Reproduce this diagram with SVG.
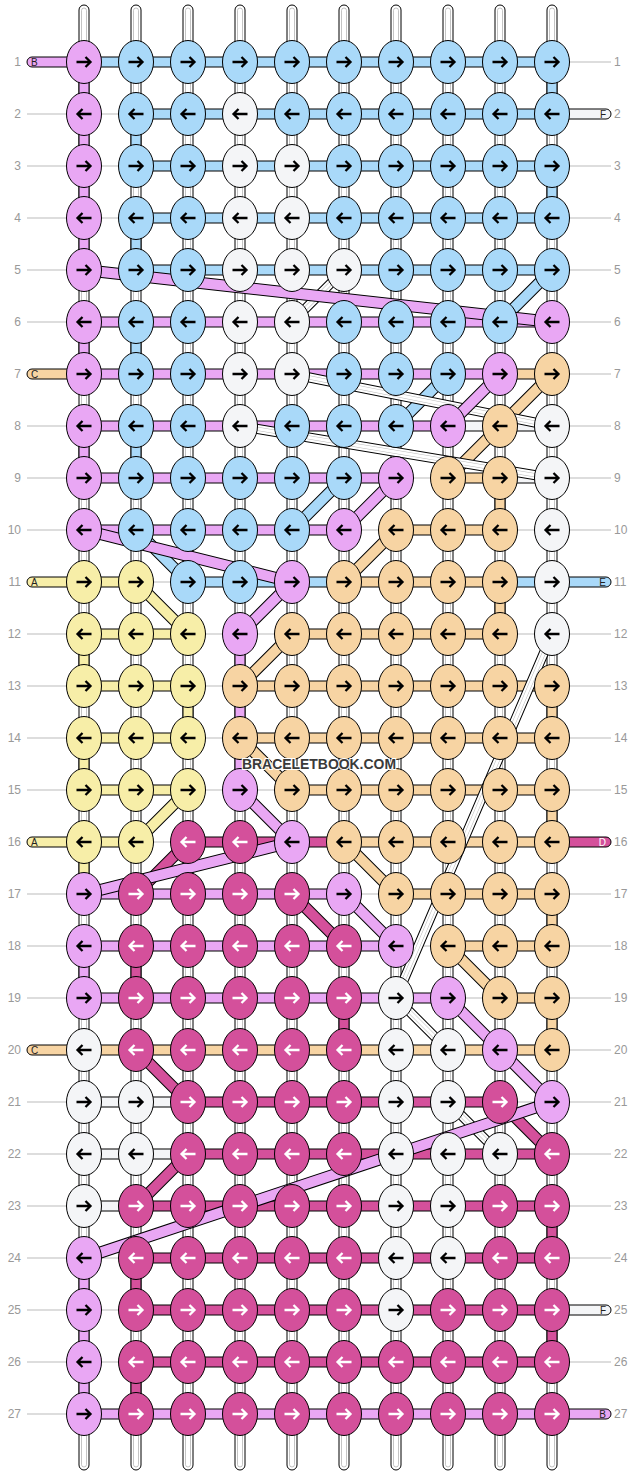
<svg xmlns="http://www.w3.org/2000/svg" xmlns:xlink="http://www.w3.org/1999/xlink" width="636" height="1476" viewBox="0 0 636 1476">
<style>
.P{fill:#e9a7f4}.L{fill:#a9d9f9}.W{fill:#f4f5f7}.O{fill:#f7d4a3}.Y{fill:#f7eea8}.M{fill:#d4509b}
.b rect{stroke:#000;stroke-width:1}
.g line{stroke:#bbb;stroke-width:1}
.n{font-family:"Liberation Sans",Arial,sans-serif;font-size:12px;fill:#999}
.t{font-family:"Liberation Sans",Arial,sans-serif;font-size:10px;fill:#222}
.dk{stroke:#000;stroke-width:12;fill:none}
.dwk{stroke:#000;stroke-width:10;fill:none}
.sP{stroke:#e9a7f4;stroke-width:10}.sL{stroke:#a9d9f9;stroke-width:10}.sO{stroke:#f7d4a3;stroke-width:10}.sY{stroke:#f7eea8;stroke-width:10}.sM{stroke:#d4509b;stroke-width:10}
.sW{stroke:#fff;stroke-width:8}.sWi{stroke:#bbb;stroke-width:4}.sWc{stroke:#fff;stroke-width:3}
</style>
<defs>
<ellipse id="e" rx="17.5" ry="21.5" stroke="#000" stroke-width="1"/>
<path id="r" d="M-7.5,0H6M1.5,-5L6.5,0L1.5,5" fill="none" stroke="#000" stroke-width="2.3"/>
<path id="l" d="M7.5,0H-6M-1.5,-5L-6.5,0L-1.5,5" fill="none" stroke="#000" stroke-width="2.3"/>
<path id="rw" d="M-7.5,0H6M1.5,-5L6.5,0L1.5,5" fill="none" stroke="#fff" stroke-width="2.3"/>
<path id="lw" d="M7.5,0H-6M-1.5,-5L-6.5,0L-1.5,5" fill="none" stroke="#fff" stroke-width="2.3"/>
<g id="col"><rect x="-5" y="5" width="10" height="1465" rx="5" fill="#fff" stroke="#000" stroke-width="1"/><rect x="-2.5" y="8" width="5" height="1459" rx="2.5" fill="none" stroke="#aaa" stroke-width="0.7"/></g>
</defs>
<g id="rowlines" class="g">
<line x1="27" y1="62" x2="611" y2="62"/><line x1="27" y1="114" x2="611" y2="114"/><line x1="27" y1="166" x2="611" y2="166"/><line x1="27" y1="218" x2="611" y2="218"/><line x1="27" y1="270" x2="611" y2="270"/><line x1="27" y1="322" x2="611" y2="322"/><line x1="27" y1="374" x2="611" y2="374"/><line x1="27" y1="426" x2="611" y2="426"/><line x1="27" y1="478" x2="611" y2="478"/><line x1="27" y1="530" x2="611" y2="530"/><line x1="27" y1="582" x2="611" y2="582"/><line x1="27" y1="634" x2="611" y2="634"/><line x1="27" y1="686" x2="611" y2="686"/><line x1="27" y1="738" x2="611" y2="738"/><line x1="27" y1="790" x2="611" y2="790"/><line x1="27" y1="842" x2="611" y2="842"/><line x1="27" y1="894" x2="611" y2="894"/><line x1="27" y1="946" x2="611" y2="946"/><line x1="27" y1="998" x2="611" y2="998"/><line x1="27" y1="1050" x2="611" y2="1050"/><line x1="27" y1="1102" x2="611" y2="1102"/><line x1="27" y1="1154" x2="611" y2="1154"/><line x1="27" y1="1206" x2="611" y2="1206"/><line x1="27" y1="1258" x2="611" y2="1258"/><line x1="27" y1="1310" x2="611" y2="1310"/><line x1="27" y1="1362" x2="611" y2="1362"/><line x1="27" y1="1414" x2="611" y2="1414"/>
</g>
<g id="connectors">
<g id="vertical-strings">
<use href="#col" x="84"/><use href="#col" x="136"/><use href="#col" x="188"/><use href="#col" x="240"/><use href="#col" x="292"/><use href="#col" x="344"/><use href="#col" x="396"/><use href="#col" x="448"/><use href="#col" x="500"/><use href="#col" x="552"/>
</g>
<g id="vertical-segments" class="b">
<rect class="P" x="79" y="62" width="10" height="52"/><rect class="L" x="547" y="62" width="10" height="52"/>
<rect class="P" x="79" y="114" width="10" height="52"/><rect class="L" x="131" y="114" width="10" height="52"/>
<rect class="P" x="79" y="166" width="10" height="52"/><rect class="L" x="547" y="166" width="10" height="52"/>
<rect class="P" x="79" y="218" width="10" height="52"/><rect class="L" x="131" y="218" width="10" height="52"/>
<rect class="P" x="79" y="322" width="10" height="52"/><rect class="L" x="131" y="322" width="10" height="52"/>
<rect class="P" x="79" y="426" width="10" height="52"/><rect class="L" x="131" y="426" width="10" height="52"/>
<rect class="O" x="495" y="478" width="10" height="52"/>
<rect class="O" x="495" y="582" width="10" height="52"/>
<rect class="Y" x="79" y="634" width="10" height="52"/><rect class="P" x="235" y="634" width="10" height="52"/>
<rect class="Y" x="183" y="686" width="10" height="52"/><rect class="P" x="235" y="686" width="10" height="52"/><rect class="O" x="547" y="686" width="10" height="52"/>
<rect class="Y" x="79" y="738" width="10" height="52"/><rect class="P" x="235" y="738" width="10" height="52"/>
<rect class="O" x="547" y="790" width="10" height="52"/>
<rect class="Y" x="79" y="842" width="10" height="52"/>
<rect class="O" x="547" y="894" width="10" height="52"/>
<rect class="P" x="79" y="946" width="10" height="52"/><rect class="M" x="131" y="946" width="10" height="52"/>
<rect class="M" x="339" y="998" width="10" height="52"/><rect class="O" x="547" y="998" width="10" height="52"/>
<rect class="M" x="547" y="1206" width="10" height="52"/>
<rect class="P" x="79" y="1258" width="10" height="52"/><rect class="M" x="131" y="1258" width="10" height="52"/>
<rect class="P" x="79" y="1310" width="10" height="52"/><rect class="M" x="547" y="1310" width="10" height="52"/>
<rect class="P" x="79" y="1362" width="10" height="52"/><rect class="M" x="131" y="1362" width="10" height="52"/>
</g>
<g id="horizontal-bars" class="b">
<rect class="P" x="27" y="57" width="57" height="10" rx="5"/>
<rect class="L" x="84" y="57" width="468" height="10"/>
<rect class="L" x="136" y="109" width="416" height="10"/>
<rect class="W" x="552" y="109" width="59" height="10" rx="5"/>
<rect class="L" x="136" y="161" width="416" height="10"/>
<rect class="L" x="136" y="213" width="416" height="10"/>
<rect class="L" x="136" y="265" width="416" height="10"/>
<rect class="P" x="84" y="317" width="468" height="10"/>
<rect class="O" x="27" y="369" width="57" height="10" rx="5"/>
<rect class="P" x="84" y="369" width="416" height="10"/><rect class="O" x="500" y="369" width="52" height="10"/>
<rect class="P" x="84" y="421" width="364" height="10"/><rect class="W" x="448" y="421" width="104" height="10"/>
<rect class="P" x="84" y="473" width="312" height="10"/><rect class="O" x="448" y="473" width="52" height="10"/><rect class="W" x="500" y="473" width="52" height="10"/>
<rect class="P" x="84" y="525" width="260" height="10"/><rect class="O" x="396" y="525" width="104" height="10"/>
<rect class="Y" x="27" y="577" width="57" height="10" rx="5"/>
<rect class="Y" x="84" y="577" width="52" height="10"/><rect class="L" x="188" y="577" width="156" height="10"/><rect class="O" x="344" y="577" width="156" height="10"/><rect class="L" x="500" y="577" width="52" height="10"/>
<rect class="L" x="552" y="577" width="59" height="10" rx="5"/>
<rect class="Y" x="84" y="629" width="104" height="10"/><rect class="O" x="292" y="629" width="208" height="10"/>
<rect class="Y" x="84" y="681" width="104" height="10"/><rect class="O" x="240" y="681" width="312" height="10"/>
<rect class="Y" x="84" y="733" width="104" height="10"/><rect class="O" x="240" y="733" width="312" height="10"/>
<rect class="Y" x="84" y="785" width="104" height="10"/><rect class="O" x="292" y="785" width="260" height="10"/>
<rect class="Y" x="27" y="837" width="57" height="10" rx="5"/>
<rect class="Y" x="84" y="837" width="52" height="10"/><rect class="M" x="188" y="837" width="156" height="10"/><rect class="O" x="344" y="837" width="208" height="10"/>
<rect class="M" x="552" y="837" width="59" height="10" rx="5"/>
<rect class="P" x="84" y="889" width="260" height="10"/><rect class="O" x="396" y="889" width="156" height="10"/>
<rect class="P" x="84" y="941" width="312" height="10"/><rect class="O" x="448" y="941" width="104" height="10"/>
<rect class="P" x="84" y="993" width="364" height="10"/><rect class="O" x="500" y="993" width="52" height="10"/>
<rect class="O" x="27" y="1045" width="57" height="10" rx="5"/>
<rect class="O" x="84" y="1045" width="468" height="10"/>
<rect class="W" x="84" y="1097" width="104" height="10"/><rect class="M" x="188" y="1097" width="312" height="10"/>
<rect class="W" x="84" y="1149" width="104" height="10"/><rect class="M" x="188" y="1149" width="364" height="10"/>
<rect class="W" x="84" y="1201" width="52" height="10"/><rect class="M" x="136" y="1201" width="416" height="10"/>
<rect class="M" x="136" y="1253" width="416" height="10"/>
<rect class="M" x="136" y="1305" width="416" height="10"/>
<rect class="W" x="552" y="1305" width="59" height="10" rx="5"/>
<rect class="M" x="136" y="1357" width="416" height="10"/>
<rect class="P" x="84" y="1409" width="468" height="10"/>
<rect class="P" x="552" y="1409" width="59" height="10" rx="5"/>
</g>
<g id="diagonals">
<path class="dk" d="M552,270L500,322M448,374L396,426M344,478L292,530M136,530L188,582"/>
<path class="sL" d="M552,270L500,322M448,374L396,426M344,478L292,530M136,530L188,582"/>
<path class="dk" d="M552,374L500,426M500,426L448,478M396,530L344,582M292,634L240,686M240,738L292,790M344,842L396,894M448,946L500,998"/>
<path class="sO" d="M552,374L500,426M500,426L448,478M396,530L344,582M292,634L240,686M240,738L292,790M344,842L396,894M448,946L500,998"/>
<path class="dk" d="M136,582L188,634M188,790L136,842"/>
<path class="sY" d="M136,582L188,634M188,790L136,842"/>
<path class="dk" d="M188,842L136,894M292,894L344,946M136,1050L188,1102M500,1102L552,1154M188,1154L136,1206"/>
<path class="sM" d="M188,842L136,894M292,894L344,946M136,1050L188,1102M500,1102L552,1154M188,1154L136,1206"/>
<path class="dwk" d="M344,270L292,322M292,374L552,426M240,426L552,478M552,634L396,998M396,998L448,1050M448,1102L500,1154"/>
<path class="sW" d="M344,270L292,322M292,374L552,426M240,426L552,478M552,634L396,998M396,998L448,1050M448,1102L500,1154"/>
<path class="sWi" d="M344,270L292,322M292,374L552,426M240,426L552,478M552,634L396,998M396,998L448,1050M448,1102L500,1154"/>
<path class="sWc" d="M344,270L292,322M292,374L552,426M240,426L552,478M552,634L396,998M396,998L448,1050M448,1102L500,1154"/>
<path class="dk" d="M84,270L552,322M500,374L448,426M396,478L344,530M84,530L292,582M292,582L240,634M240,790L292,842M292,842L84,894M344,894L396,946M448,998L500,1050M500,1050L552,1102M552,1102L84,1258"/>
<path class="sP" d="M84,270L552,322M500,374L448,426M396,478L344,530M84,530L292,582M292,582L240,634M240,790L292,842M292,842L84,894M344,894L396,946M448,998L500,1050M500,1050L552,1102M552,1102L84,1258"/>
</g>
</g>
<g id="knots">
<g id="k1-1"><use href="#e" class="P" x="84" y="62"/><use href="#r" x="84" y="62"/></g>
<g id="k1-2"><use href="#e" class="L" x="136" y="62"/><use href="#r" x="136" y="62"/></g>
<g id="k1-3"><use href="#e" class="L" x="188" y="62"/><use href="#r" x="188" y="62"/></g>
<g id="k1-4"><use href="#e" class="L" x="240" y="62"/><use href="#r" x="240" y="62"/></g>
<g id="k1-5"><use href="#e" class="L" x="292" y="62"/><use href="#r" x="292" y="62"/></g>
<g id="k1-6"><use href="#e" class="L" x="344" y="62"/><use href="#r" x="344" y="62"/></g>
<g id="k1-7"><use href="#e" class="L" x="396" y="62"/><use href="#r" x="396" y="62"/></g>
<g id="k1-8"><use href="#e" class="L" x="448" y="62"/><use href="#r" x="448" y="62"/></g>
<g id="k1-9"><use href="#e" class="L" x="500" y="62"/><use href="#r" x="500" y="62"/></g>
<g id="k1-10"><use href="#e" class="L" x="552" y="62"/><use href="#r" x="552" y="62"/></g>
<g id="k2-1"><use href="#e" class="P" x="84" y="114"/><use href="#l" x="84" y="114"/></g>
<g id="k2-2"><use href="#e" class="L" x="136" y="114"/><use href="#l" x="136" y="114"/></g>
<g id="k2-3"><use href="#e" class="L" x="188" y="114"/><use href="#l" x="188" y="114"/></g>
<g id="k2-4"><use href="#e" class="W" x="240" y="114"/><use href="#l" x="240" y="114"/></g>
<g id="k2-5"><use href="#e" class="L" x="292" y="114"/><use href="#l" x="292" y="114"/></g>
<g id="k2-6"><use href="#e" class="L" x="344" y="114"/><use href="#l" x="344" y="114"/></g>
<g id="k2-7"><use href="#e" class="L" x="396" y="114"/><use href="#l" x="396" y="114"/></g>
<g id="k2-8"><use href="#e" class="L" x="448" y="114"/><use href="#l" x="448" y="114"/></g>
<g id="k2-9"><use href="#e" class="L" x="500" y="114"/><use href="#l" x="500" y="114"/></g>
<g id="k2-10"><use href="#e" class="L" x="552" y="114"/><use href="#l" x="552" y="114"/></g>
<g id="k3-1"><use href="#e" class="P" x="84" y="166"/><use href="#r" x="84" y="166"/></g>
<g id="k3-2"><use href="#e" class="L" x="136" y="166"/><use href="#r" x="136" y="166"/></g>
<g id="k3-3"><use href="#e" class="L" x="188" y="166"/><use href="#r" x="188" y="166"/></g>
<g id="k3-4"><use href="#e" class="W" x="240" y="166"/><use href="#r" x="240" y="166"/></g>
<g id="k3-5"><use href="#e" class="W" x="292" y="166"/><use href="#r" x="292" y="166"/></g>
<g id="k3-6"><use href="#e" class="L" x="344" y="166"/><use href="#r" x="344" y="166"/></g>
<g id="k3-7"><use href="#e" class="L" x="396" y="166"/><use href="#r" x="396" y="166"/></g>
<g id="k3-8"><use href="#e" class="L" x="448" y="166"/><use href="#r" x="448" y="166"/></g>
<g id="k3-9"><use href="#e" class="L" x="500" y="166"/><use href="#r" x="500" y="166"/></g>
<g id="k3-10"><use href="#e" class="L" x="552" y="166"/><use href="#r" x="552" y="166"/></g>
<g id="k4-1"><use href="#e" class="P" x="84" y="218"/><use href="#l" x="84" y="218"/></g>
<g id="k4-2"><use href="#e" class="L" x="136" y="218"/><use href="#l" x="136" y="218"/></g>
<g id="k4-3"><use href="#e" class="L" x="188" y="218"/><use href="#l" x="188" y="218"/></g>
<g id="k4-4"><use href="#e" class="W" x="240" y="218"/><use href="#l" x="240" y="218"/></g>
<g id="k4-5"><use href="#e" class="W" x="292" y="218"/><use href="#l" x="292" y="218"/></g>
<g id="k4-6"><use href="#e" class="L" x="344" y="218"/><use href="#l" x="344" y="218"/></g>
<g id="k4-7"><use href="#e" class="L" x="396" y="218"/><use href="#l" x="396" y="218"/></g>
<g id="k4-8"><use href="#e" class="L" x="448" y="218"/><use href="#l" x="448" y="218"/></g>
<g id="k4-9"><use href="#e" class="L" x="500" y="218"/><use href="#l" x="500" y="218"/></g>
<g id="k4-10"><use href="#e" class="L" x="552" y="218"/><use href="#l" x="552" y="218"/></g>
<g id="k5-1"><use href="#e" class="P" x="84" y="270"/><use href="#r" x="84" y="270"/></g>
<g id="k5-2"><use href="#e" class="L" x="136" y="270"/><use href="#r" x="136" y="270"/></g>
<g id="k5-3"><use href="#e" class="L" x="188" y="270"/><use href="#r" x="188" y="270"/></g>
<g id="k5-4"><use href="#e" class="W" x="240" y="270"/><use href="#r" x="240" y="270"/></g>
<g id="k5-5"><use href="#e" class="W" x="292" y="270"/><use href="#r" x="292" y="270"/></g>
<g id="k5-6"><use href="#e" class="W" x="344" y="270"/><use href="#r" x="344" y="270"/></g>
<g id="k5-7"><use href="#e" class="L" x="396" y="270"/><use href="#r" x="396" y="270"/></g>
<g id="k5-8"><use href="#e" class="L" x="448" y="270"/><use href="#r" x="448" y="270"/></g>
<g id="k5-9"><use href="#e" class="L" x="500" y="270"/><use href="#r" x="500" y="270"/></g>
<g id="k5-10"><use href="#e" class="L" x="552" y="270"/><use href="#r" x="552" y="270"/></g>
<g id="k6-1"><use href="#e" class="P" x="84" y="322"/><use href="#l" x="84" y="322"/></g>
<g id="k6-2"><use href="#e" class="L" x="136" y="322"/><use href="#l" x="136" y="322"/></g>
<g id="k6-3"><use href="#e" class="L" x="188" y="322"/><use href="#l" x="188" y="322"/></g>
<g id="k6-4"><use href="#e" class="W" x="240" y="322"/><use href="#l" x="240" y="322"/></g>
<g id="k6-5"><use href="#e" class="W" x="292" y="322"/><use href="#l" x="292" y="322"/></g>
<g id="k6-6"><use href="#e" class="L" x="344" y="322"/><use href="#l" x="344" y="322"/></g>
<g id="k6-7"><use href="#e" class="L" x="396" y="322"/><use href="#l" x="396" y="322"/></g>
<g id="k6-8"><use href="#e" class="L" x="448" y="322"/><use href="#l" x="448" y="322"/></g>
<g id="k6-9"><use href="#e" class="L" x="500" y="322"/><use href="#l" x="500" y="322"/></g>
<g id="k6-10"><use href="#e" class="P" x="552" y="322"/><use href="#l" x="552" y="322"/></g>
<g id="k7-1"><use href="#e" class="P" x="84" y="374"/><use href="#r" x="84" y="374"/></g>
<g id="k7-2"><use href="#e" class="L" x="136" y="374"/><use href="#r" x="136" y="374"/></g>
<g id="k7-3"><use href="#e" class="L" x="188" y="374"/><use href="#r" x="188" y="374"/></g>
<g id="k7-4"><use href="#e" class="W" x="240" y="374"/><use href="#r" x="240" y="374"/></g>
<g id="k7-5"><use href="#e" class="W" x="292" y="374"/><use href="#r" x="292" y="374"/></g>
<g id="k7-6"><use href="#e" class="L" x="344" y="374"/><use href="#r" x="344" y="374"/></g>
<g id="k7-7"><use href="#e" class="L" x="396" y="374"/><use href="#r" x="396" y="374"/></g>
<g id="k7-8"><use href="#e" class="L" x="448" y="374"/><use href="#r" x="448" y="374"/></g>
<g id="k7-9"><use href="#e" class="P" x="500" y="374"/><use href="#r" x="500" y="374"/></g>
<g id="k7-10"><use href="#e" class="O" x="552" y="374"/><use href="#r" x="552" y="374"/></g>
<g id="k8-1"><use href="#e" class="P" x="84" y="426"/><use href="#l" x="84" y="426"/></g>
<g id="k8-2"><use href="#e" class="L" x="136" y="426"/><use href="#l" x="136" y="426"/></g>
<g id="k8-3"><use href="#e" class="L" x="188" y="426"/><use href="#l" x="188" y="426"/></g>
<g id="k8-4"><use href="#e" class="W" x="240" y="426"/><use href="#l" x="240" y="426"/></g>
<g id="k8-5"><use href="#e" class="L" x="292" y="426"/><use href="#l" x="292" y="426"/></g>
<g id="k8-6"><use href="#e" class="L" x="344" y="426"/><use href="#l" x="344" y="426"/></g>
<g id="k8-7"><use href="#e" class="L" x="396" y="426"/><use href="#l" x="396" y="426"/></g>
<g id="k8-8"><use href="#e" class="P" x="448" y="426"/><use href="#l" x="448" y="426"/></g>
<g id="k8-9"><use href="#e" class="O" x="500" y="426"/><use href="#l" x="500" y="426"/></g>
<g id="k8-10"><use href="#e" class="W" x="552" y="426"/><use href="#l" x="552" y="426"/></g>
<g id="k9-1"><use href="#e" class="P" x="84" y="478"/><use href="#r" x="84" y="478"/></g>
<g id="k9-2"><use href="#e" class="L" x="136" y="478"/><use href="#r" x="136" y="478"/></g>
<g id="k9-3"><use href="#e" class="L" x="188" y="478"/><use href="#r" x="188" y="478"/></g>
<g id="k9-4"><use href="#e" class="L" x="240" y="478"/><use href="#r" x="240" y="478"/></g>
<g id="k9-5"><use href="#e" class="L" x="292" y="478"/><use href="#r" x="292" y="478"/></g>
<g id="k9-6"><use href="#e" class="L" x="344" y="478"/><use href="#r" x="344" y="478"/></g>
<g id="k9-7"><use href="#e" class="P" x="396" y="478"/><use href="#r" x="396" y="478"/></g>
<g id="k9-8"><use href="#e" class="O" x="448" y="478"/><use href="#r" x="448" y="478"/></g>
<g id="k9-9"><use href="#e" class="O" x="500" y="478"/><use href="#r" x="500" y="478"/></g>
<g id="k9-10"><use href="#e" class="W" x="552" y="478"/><use href="#r" x="552" y="478"/></g>
<g id="k10-1"><use href="#e" class="P" x="84" y="530"/><use href="#l" x="84" y="530"/></g>
<g id="k10-2"><use href="#e" class="L" x="136" y="530"/><use href="#l" x="136" y="530"/></g>
<g id="k10-3"><use href="#e" class="L" x="188" y="530"/><use href="#l" x="188" y="530"/></g>
<g id="k10-4"><use href="#e" class="L" x="240" y="530"/><use href="#l" x="240" y="530"/></g>
<g id="k10-5"><use href="#e" class="L" x="292" y="530"/><use href="#l" x="292" y="530"/></g>
<g id="k10-6"><use href="#e" class="P" x="344" y="530"/><use href="#l" x="344" y="530"/></g>
<g id="k10-7"><use href="#e" class="O" x="396" y="530"/><use href="#l" x="396" y="530"/></g>
<g id="k10-8"><use href="#e" class="O" x="448" y="530"/><use href="#l" x="448" y="530"/></g>
<g id="k10-9"><use href="#e" class="O" x="500" y="530"/><use href="#l" x="500" y="530"/></g>
<g id="k10-10"><use href="#e" class="W" x="552" y="530"/><use href="#l" x="552" y="530"/></g>
<g id="k11-1"><use href="#e" class="Y" x="84" y="582"/><use href="#r" x="84" y="582"/></g>
<g id="k11-2"><use href="#e" class="Y" x="136" y="582"/><use href="#r" x="136" y="582"/></g>
<g id="k11-3"><use href="#e" class="L" x="188" y="582"/><use href="#r" x="188" y="582"/></g>
<g id="k11-4"><use href="#e" class="L" x="240" y="582"/><use href="#r" x="240" y="582"/></g>
<g id="k11-5"><use href="#e" class="P" x="292" y="582"/><use href="#r" x="292" y="582"/></g>
<g id="k11-6"><use href="#e" class="O" x="344" y="582"/><use href="#r" x="344" y="582"/></g>
<g id="k11-7"><use href="#e" class="O" x="396" y="582"/><use href="#r" x="396" y="582"/></g>
<g id="k11-8"><use href="#e" class="O" x="448" y="582"/><use href="#r" x="448" y="582"/></g>
<g id="k11-9"><use href="#e" class="O" x="500" y="582"/><use href="#r" x="500" y="582"/></g>
<g id="k11-10"><use href="#e" class="W" x="552" y="582"/><use href="#r" x="552" y="582"/></g>
<g id="k12-1"><use href="#e" class="Y" x="84" y="634"/><use href="#l" x="84" y="634"/></g>
<g id="k12-2"><use href="#e" class="Y" x="136" y="634"/><use href="#l" x="136" y="634"/></g>
<g id="k12-3"><use href="#e" class="Y" x="188" y="634"/><use href="#l" x="188" y="634"/></g>
<g id="k12-4"><use href="#e" class="P" x="240" y="634"/><use href="#l" x="240" y="634"/></g>
<g id="k12-5"><use href="#e" class="O" x="292" y="634"/><use href="#l" x="292" y="634"/></g>
<g id="k12-6"><use href="#e" class="O" x="344" y="634"/><use href="#l" x="344" y="634"/></g>
<g id="k12-7"><use href="#e" class="O" x="396" y="634"/><use href="#l" x="396" y="634"/></g>
<g id="k12-8"><use href="#e" class="O" x="448" y="634"/><use href="#l" x="448" y="634"/></g>
<g id="k12-9"><use href="#e" class="O" x="500" y="634"/><use href="#l" x="500" y="634"/></g>
<g id="k12-10"><use href="#e" class="W" x="552" y="634"/><use href="#l" x="552" y="634"/></g>
<g id="k13-1"><use href="#e" class="Y" x="84" y="686"/><use href="#r" x="84" y="686"/></g>
<g id="k13-2"><use href="#e" class="Y" x="136" y="686"/><use href="#r" x="136" y="686"/></g>
<g id="k13-3"><use href="#e" class="Y" x="188" y="686"/><use href="#r" x="188" y="686"/></g>
<g id="k13-4"><use href="#e" class="O" x="240" y="686"/><use href="#r" x="240" y="686"/></g>
<g id="k13-5"><use href="#e" class="O" x="292" y="686"/><use href="#r" x="292" y="686"/></g>
<g id="k13-6"><use href="#e" class="O" x="344" y="686"/><use href="#r" x="344" y="686"/></g>
<g id="k13-7"><use href="#e" class="O" x="396" y="686"/><use href="#r" x="396" y="686"/></g>
<g id="k13-8"><use href="#e" class="O" x="448" y="686"/><use href="#r" x="448" y="686"/></g>
<g id="k13-9"><use href="#e" class="O" x="500" y="686"/><use href="#r" x="500" y="686"/></g>
<g id="k13-10"><use href="#e" class="O" x="552" y="686"/><use href="#r" x="552" y="686"/></g>
<g id="k14-1"><use href="#e" class="Y" x="84" y="738"/><use href="#l" x="84" y="738"/></g>
<g id="k14-2"><use href="#e" class="Y" x="136" y="738"/><use href="#l" x="136" y="738"/></g>
<g id="k14-3"><use href="#e" class="Y" x="188" y="738"/><use href="#l" x="188" y="738"/></g>
<g id="k14-4"><use href="#e" class="O" x="240" y="738"/><use href="#l" x="240" y="738"/></g>
<g id="k14-5"><use href="#e" class="O" x="292" y="738"/><use href="#l" x="292" y="738"/></g>
<g id="k14-6"><use href="#e" class="O" x="344" y="738"/><use href="#l" x="344" y="738"/></g>
<g id="k14-7"><use href="#e" class="O" x="396" y="738"/><use href="#l" x="396" y="738"/></g>
<g id="k14-8"><use href="#e" class="O" x="448" y="738"/><use href="#l" x="448" y="738"/></g>
<g id="k14-9"><use href="#e" class="O" x="500" y="738"/><use href="#l" x="500" y="738"/></g>
<g id="k14-10"><use href="#e" class="O" x="552" y="738"/><use href="#l" x="552" y="738"/></g>
<g id="k15-1"><use href="#e" class="Y" x="84" y="790"/><use href="#r" x="84" y="790"/></g>
<g id="k15-2"><use href="#e" class="Y" x="136" y="790"/><use href="#r" x="136" y="790"/></g>
<g id="k15-3"><use href="#e" class="Y" x="188" y="790"/><use href="#r" x="188" y="790"/></g>
<g id="k15-4"><use href="#e" class="P" x="240" y="790"/><use href="#r" x="240" y="790"/></g>
<g id="k15-5"><use href="#e" class="O" x="292" y="790"/><use href="#r" x="292" y="790"/></g>
<g id="k15-6"><use href="#e" class="O" x="344" y="790"/><use href="#r" x="344" y="790"/></g>
<g id="k15-7"><use href="#e" class="O" x="396" y="790"/><use href="#r" x="396" y="790"/></g>
<g id="k15-8"><use href="#e" class="O" x="448" y="790"/><use href="#r" x="448" y="790"/></g>
<g id="k15-9"><use href="#e" class="O" x="500" y="790"/><use href="#r" x="500" y="790"/></g>
<g id="k15-10"><use href="#e" class="O" x="552" y="790"/><use href="#r" x="552" y="790"/></g>
<g id="k16-1"><use href="#e" class="Y" x="84" y="842"/><use href="#l" x="84" y="842"/></g>
<g id="k16-2"><use href="#e" class="Y" x="136" y="842"/><use href="#l" x="136" y="842"/></g>
<g id="k16-3"><use href="#e" class="M" x="188" y="842"/><use href="#lw" x="188" y="842"/></g>
<g id="k16-4"><use href="#e" class="M" x="240" y="842"/><use href="#lw" x="240" y="842"/></g>
<g id="k16-5"><use href="#e" class="P" x="292" y="842"/><use href="#l" x="292" y="842"/></g>
<g id="k16-6"><use href="#e" class="O" x="344" y="842"/><use href="#l" x="344" y="842"/></g>
<g id="k16-7"><use href="#e" class="O" x="396" y="842"/><use href="#l" x="396" y="842"/></g>
<g id="k16-8"><use href="#e" class="O" x="448" y="842"/><use href="#l" x="448" y="842"/></g>
<g id="k16-9"><use href="#e" class="O" x="500" y="842"/><use href="#l" x="500" y="842"/></g>
<g id="k16-10"><use href="#e" class="O" x="552" y="842"/><use href="#l" x="552" y="842"/></g>
<g id="k17-1"><use href="#e" class="P" x="84" y="894"/><use href="#r" x="84" y="894"/></g>
<g id="k17-2"><use href="#e" class="M" x="136" y="894"/><use href="#rw" x="136" y="894"/></g>
<g id="k17-3"><use href="#e" class="M" x="188" y="894"/><use href="#rw" x="188" y="894"/></g>
<g id="k17-4"><use href="#e" class="M" x="240" y="894"/><use href="#rw" x="240" y="894"/></g>
<g id="k17-5"><use href="#e" class="M" x="292" y="894"/><use href="#rw" x="292" y="894"/></g>
<g id="k17-6"><use href="#e" class="P" x="344" y="894"/><use href="#r" x="344" y="894"/></g>
<g id="k17-7"><use href="#e" class="O" x="396" y="894"/><use href="#r" x="396" y="894"/></g>
<g id="k17-8"><use href="#e" class="O" x="448" y="894"/><use href="#r" x="448" y="894"/></g>
<g id="k17-9"><use href="#e" class="O" x="500" y="894"/><use href="#r" x="500" y="894"/></g>
<g id="k17-10"><use href="#e" class="O" x="552" y="894"/><use href="#r" x="552" y="894"/></g>
<g id="k18-1"><use href="#e" class="P" x="84" y="946"/><use href="#l" x="84" y="946"/></g>
<g id="k18-2"><use href="#e" class="M" x="136" y="946"/><use href="#lw" x="136" y="946"/></g>
<g id="k18-3"><use href="#e" class="M" x="188" y="946"/><use href="#lw" x="188" y="946"/></g>
<g id="k18-4"><use href="#e" class="M" x="240" y="946"/><use href="#lw" x="240" y="946"/></g>
<g id="k18-5"><use href="#e" class="M" x="292" y="946"/><use href="#lw" x="292" y="946"/></g>
<g id="k18-6"><use href="#e" class="M" x="344" y="946"/><use href="#lw" x="344" y="946"/></g>
<g id="k18-7"><use href="#e" class="P" x="396" y="946"/><use href="#l" x="396" y="946"/></g>
<g id="k18-8"><use href="#e" class="O" x="448" y="946"/><use href="#l" x="448" y="946"/></g>
<g id="k18-9"><use href="#e" class="O" x="500" y="946"/><use href="#l" x="500" y="946"/></g>
<g id="k18-10"><use href="#e" class="O" x="552" y="946"/><use href="#l" x="552" y="946"/></g>
<g id="k19-1"><use href="#e" class="P" x="84" y="998"/><use href="#r" x="84" y="998"/></g>
<g id="k19-2"><use href="#e" class="M" x="136" y="998"/><use href="#rw" x="136" y="998"/></g>
<g id="k19-3"><use href="#e" class="M" x="188" y="998"/><use href="#rw" x="188" y="998"/></g>
<g id="k19-4"><use href="#e" class="M" x="240" y="998"/><use href="#rw" x="240" y="998"/></g>
<g id="k19-5"><use href="#e" class="M" x="292" y="998"/><use href="#rw" x="292" y="998"/></g>
<g id="k19-6"><use href="#e" class="M" x="344" y="998"/><use href="#rw" x="344" y="998"/></g>
<g id="k19-7"><use href="#e" class="W" x="396" y="998"/><use href="#r" x="396" y="998"/></g>
<g id="k19-8"><use href="#e" class="P" x="448" y="998"/><use href="#r" x="448" y="998"/></g>
<g id="k19-9"><use href="#e" class="O" x="500" y="998"/><use href="#r" x="500" y="998"/></g>
<g id="k19-10"><use href="#e" class="O" x="552" y="998"/><use href="#r" x="552" y="998"/></g>
<g id="k20-1"><use href="#e" class="W" x="84" y="1050"/><use href="#l" x="84" y="1050"/></g>
<g id="k20-2"><use href="#e" class="M" x="136" y="1050"/><use href="#lw" x="136" y="1050"/></g>
<g id="k20-3"><use href="#e" class="M" x="188" y="1050"/><use href="#lw" x="188" y="1050"/></g>
<g id="k20-4"><use href="#e" class="M" x="240" y="1050"/><use href="#lw" x="240" y="1050"/></g>
<g id="k20-5"><use href="#e" class="M" x="292" y="1050"/><use href="#lw" x="292" y="1050"/></g>
<g id="k20-6"><use href="#e" class="M" x="344" y="1050"/><use href="#lw" x="344" y="1050"/></g>
<g id="k20-7"><use href="#e" class="W" x="396" y="1050"/><use href="#l" x="396" y="1050"/></g>
<g id="k20-8"><use href="#e" class="W" x="448" y="1050"/><use href="#l" x="448" y="1050"/></g>
<g id="k20-9"><use href="#e" class="P" x="500" y="1050"/><use href="#l" x="500" y="1050"/></g>
<g id="k20-10"><use href="#e" class="O" x="552" y="1050"/><use href="#l" x="552" y="1050"/></g>
<g id="k21-1"><use href="#e" class="W" x="84" y="1102"/><use href="#r" x="84" y="1102"/></g>
<g id="k21-2"><use href="#e" class="W" x="136" y="1102"/><use href="#r" x="136" y="1102"/></g>
<g id="k21-3"><use href="#e" class="M" x="188" y="1102"/><use href="#rw" x="188" y="1102"/></g>
<g id="k21-4"><use href="#e" class="M" x="240" y="1102"/><use href="#rw" x="240" y="1102"/></g>
<g id="k21-5"><use href="#e" class="M" x="292" y="1102"/><use href="#rw" x="292" y="1102"/></g>
<g id="k21-6"><use href="#e" class="M" x="344" y="1102"/><use href="#rw" x="344" y="1102"/></g>
<g id="k21-7"><use href="#e" class="W" x="396" y="1102"/><use href="#r" x="396" y="1102"/></g>
<g id="k21-8"><use href="#e" class="W" x="448" y="1102"/><use href="#r" x="448" y="1102"/></g>
<g id="k21-9"><use href="#e" class="M" x="500" y="1102"/><use href="#rw" x="500" y="1102"/></g>
<g id="k21-10"><use href="#e" class="P" x="552" y="1102"/><use href="#r" x="552" y="1102"/></g>
<g id="k22-1"><use href="#e" class="W" x="84" y="1154"/><use href="#l" x="84" y="1154"/></g>
<g id="k22-2"><use href="#e" class="W" x="136" y="1154"/><use href="#l" x="136" y="1154"/></g>
<g id="k22-3"><use href="#e" class="M" x="188" y="1154"/><use href="#lw" x="188" y="1154"/></g>
<g id="k22-4"><use href="#e" class="M" x="240" y="1154"/><use href="#lw" x="240" y="1154"/></g>
<g id="k22-5"><use href="#e" class="M" x="292" y="1154"/><use href="#lw" x="292" y="1154"/></g>
<g id="k22-6"><use href="#e" class="M" x="344" y="1154"/><use href="#lw" x="344" y="1154"/></g>
<g id="k22-7"><use href="#e" class="W" x="396" y="1154"/><use href="#l" x="396" y="1154"/></g>
<g id="k22-8"><use href="#e" class="W" x="448" y="1154"/><use href="#l" x="448" y="1154"/></g>
<g id="k22-9"><use href="#e" class="W" x="500" y="1154"/><use href="#l" x="500" y="1154"/></g>
<g id="k22-10"><use href="#e" class="M" x="552" y="1154"/><use href="#lw" x="552" y="1154"/></g>
<g id="k23-1"><use href="#e" class="W" x="84" y="1206"/><use href="#r" x="84" y="1206"/></g>
<g id="k23-2"><use href="#e" class="M" x="136" y="1206"/><use href="#rw" x="136" y="1206"/></g>
<g id="k23-3"><use href="#e" class="M" x="188" y="1206"/><use href="#rw" x="188" y="1206"/></g>
<g id="k23-4"><use href="#e" class="M" x="240" y="1206"/><use href="#rw" x="240" y="1206"/></g>
<g id="k23-5"><use href="#e" class="M" x="292" y="1206"/><use href="#rw" x="292" y="1206"/></g>
<g id="k23-6"><use href="#e" class="M" x="344" y="1206"/><use href="#rw" x="344" y="1206"/></g>
<g id="k23-7"><use href="#e" class="W" x="396" y="1206"/><use href="#r" x="396" y="1206"/></g>
<g id="k23-8"><use href="#e" class="W" x="448" y="1206"/><use href="#r" x="448" y="1206"/></g>
<g id="k23-9"><use href="#e" class="M" x="500" y="1206"/><use href="#rw" x="500" y="1206"/></g>
<g id="k23-10"><use href="#e" class="M" x="552" y="1206"/><use href="#rw" x="552" y="1206"/></g>
<g id="k24-1"><use href="#e" class="P" x="84" y="1258"/><use href="#l" x="84" y="1258"/></g>
<g id="k24-2"><use href="#e" class="M" x="136" y="1258"/><use href="#lw" x="136" y="1258"/></g>
<g id="k24-3"><use href="#e" class="M" x="188" y="1258"/><use href="#lw" x="188" y="1258"/></g>
<g id="k24-4"><use href="#e" class="M" x="240" y="1258"/><use href="#lw" x="240" y="1258"/></g>
<g id="k24-5"><use href="#e" class="M" x="292" y="1258"/><use href="#lw" x="292" y="1258"/></g>
<g id="k24-6"><use href="#e" class="M" x="344" y="1258"/><use href="#lw" x="344" y="1258"/></g>
<g id="k24-7"><use href="#e" class="W" x="396" y="1258"/><use href="#l" x="396" y="1258"/></g>
<g id="k24-8"><use href="#e" class="W" x="448" y="1258"/><use href="#l" x="448" y="1258"/></g>
<g id="k24-9"><use href="#e" class="M" x="500" y="1258"/><use href="#lw" x="500" y="1258"/></g>
<g id="k24-10"><use href="#e" class="M" x="552" y="1258"/><use href="#lw" x="552" y="1258"/></g>
<g id="k25-1"><use href="#e" class="P" x="84" y="1310"/><use href="#r" x="84" y="1310"/></g>
<g id="k25-2"><use href="#e" class="M" x="136" y="1310"/><use href="#rw" x="136" y="1310"/></g>
<g id="k25-3"><use href="#e" class="M" x="188" y="1310"/><use href="#rw" x="188" y="1310"/></g>
<g id="k25-4"><use href="#e" class="M" x="240" y="1310"/><use href="#rw" x="240" y="1310"/></g>
<g id="k25-5"><use href="#e" class="M" x="292" y="1310"/><use href="#rw" x="292" y="1310"/></g>
<g id="k25-6"><use href="#e" class="M" x="344" y="1310"/><use href="#rw" x="344" y="1310"/></g>
<g id="k25-7"><use href="#e" class="W" x="396" y="1310"/><use href="#r" x="396" y="1310"/></g>
<g id="k25-8"><use href="#e" class="M" x="448" y="1310"/><use href="#rw" x="448" y="1310"/></g>
<g id="k25-9"><use href="#e" class="M" x="500" y="1310"/><use href="#rw" x="500" y="1310"/></g>
<g id="k25-10"><use href="#e" class="M" x="552" y="1310"/><use href="#rw" x="552" y="1310"/></g>
<g id="k26-1"><use href="#e" class="P" x="84" y="1362"/><use href="#l" x="84" y="1362"/></g>
<g id="k26-2"><use href="#e" class="M" x="136" y="1362"/><use href="#lw" x="136" y="1362"/></g>
<g id="k26-3"><use href="#e" class="M" x="188" y="1362"/><use href="#lw" x="188" y="1362"/></g>
<g id="k26-4"><use href="#e" class="M" x="240" y="1362"/><use href="#lw" x="240" y="1362"/></g>
<g id="k26-5"><use href="#e" class="M" x="292" y="1362"/><use href="#lw" x="292" y="1362"/></g>
<g id="k26-6"><use href="#e" class="M" x="344" y="1362"/><use href="#lw" x="344" y="1362"/></g>
<g id="k26-7"><use href="#e" class="M" x="396" y="1362"/><use href="#lw" x="396" y="1362"/></g>
<g id="k26-8"><use href="#e" class="M" x="448" y="1362"/><use href="#lw" x="448" y="1362"/></g>
<g id="k26-9"><use href="#e" class="M" x="500" y="1362"/><use href="#lw" x="500" y="1362"/></g>
<g id="k26-10"><use href="#e" class="M" x="552" y="1362"/><use href="#lw" x="552" y="1362"/></g>
<g id="k27-1"><use href="#e" class="P" x="84" y="1414"/><use href="#r" x="84" y="1414"/></g>
<g id="k27-2"><use href="#e" class="M" x="136" y="1414"/><use href="#rw" x="136" y="1414"/></g>
<g id="k27-3"><use href="#e" class="M" x="188" y="1414"/><use href="#rw" x="188" y="1414"/></g>
<g id="k27-4"><use href="#e" class="M" x="240" y="1414"/><use href="#rw" x="240" y="1414"/></g>
<g id="k27-5"><use href="#e" class="M" x="292" y="1414"/><use href="#rw" x="292" y="1414"/></g>
<g id="k27-6"><use href="#e" class="M" x="344" y="1414"/><use href="#rw" x="344" y="1414"/></g>
<g id="k27-7"><use href="#e" class="M" x="396" y="1414"/><use href="#rw" x="396" y="1414"/></g>
<g id="k27-8"><use href="#e" class="M" x="448" y="1414"/><use href="#rw" x="448" y="1414"/></g>
<g id="k27-9"><use href="#e" class="M" x="500" y="1414"/><use href="#rw" x="500" y="1414"/></g>
<g id="k27-10"><use href="#e" class="M" x="552" y="1414"/><use href="#rw" x="552" y="1414"/></g>
</g>
<g id="string-letters" class="t">
<text x="31" y="66">B</text><text x="606" y="118" text-anchor="end">F</text><text x="31" y="378">C</text><text x="31" y="586">A</text><text x="606" y="586" text-anchor="end">E</text><text x="31" y="846">A</text><text x="606" y="846" text-anchor="end" fill="#fff">D</text><text x="31" y="1054">C</text><text x="606" y="1314" text-anchor="end">F</text><text x="606" y="1418" text-anchor="end">B</text>
</g>
<g id="row-numbers-left" class="n" text-anchor="end">
<text x="21" y="66">1</text><text x="21" y="118">2</text><text x="21" y="170">3</text><text x="21" y="222">4</text><text x="21" y="274">5</text><text x="21" y="326">6</text><text x="21" y="378">7</text><text x="21" y="430">8</text><text x="21" y="482">9</text><text x="21" y="534">10</text><text x="21" y="586">11</text><text x="21" y="638">12</text><text x="21" y="690">13</text><text x="21" y="742">14</text><text x="21" y="794">15</text><text x="21" y="846">16</text><text x="21" y="898">17</text><text x="21" y="950">18</text><text x="21" y="1002">19</text><text x="21" y="1054">20</text><text x="21" y="1106">21</text><text x="21" y="1158">22</text><text x="21" y="1210">23</text><text x="21" y="1262">24</text><text x="21" y="1314">25</text><text x="21" y="1366">26</text><text x="21" y="1418">27</text>
</g>
<g id="row-numbers-right" class="n">
<text x="614" y="66">1</text><text x="614" y="118">2</text><text x="614" y="170">3</text><text x="614" y="222">4</text><text x="614" y="274">5</text><text x="614" y="326">6</text><text x="614" y="378">7</text><text x="614" y="430">8</text><text x="614" y="482">9</text><text x="614" y="534">10</text><text x="614" y="586">11</text><text x="614" y="638">12</text><text x="614" y="690">13</text><text x="614" y="742">14</text><text x="614" y="794">15</text><text x="614" y="846">16</text><text x="614" y="898">17</text><text x="614" y="950">18</text><text x="614" y="1002">19</text><text x="614" y="1054">20</text><text x="614" y="1106">21</text><text x="614" y="1158">22</text><text x="614" y="1210">23</text><text x="614" y="1262">24</text><text x="614" y="1314">25</text><text x="614" y="1366">26</text><text x="614" y="1418">27</text>
</g>
<text id="watermark" x="242" y="769" textLength="154" lengthAdjust="spacingAndGlyphs" font-family="Liberation Sans, Arial, sans-serif" font-weight="bold" font-size="14" fill="#3a3a3a" stroke="#fff" stroke-width="2" paint-order="stroke">BRACELETBOOK.COM</text>
</svg>
